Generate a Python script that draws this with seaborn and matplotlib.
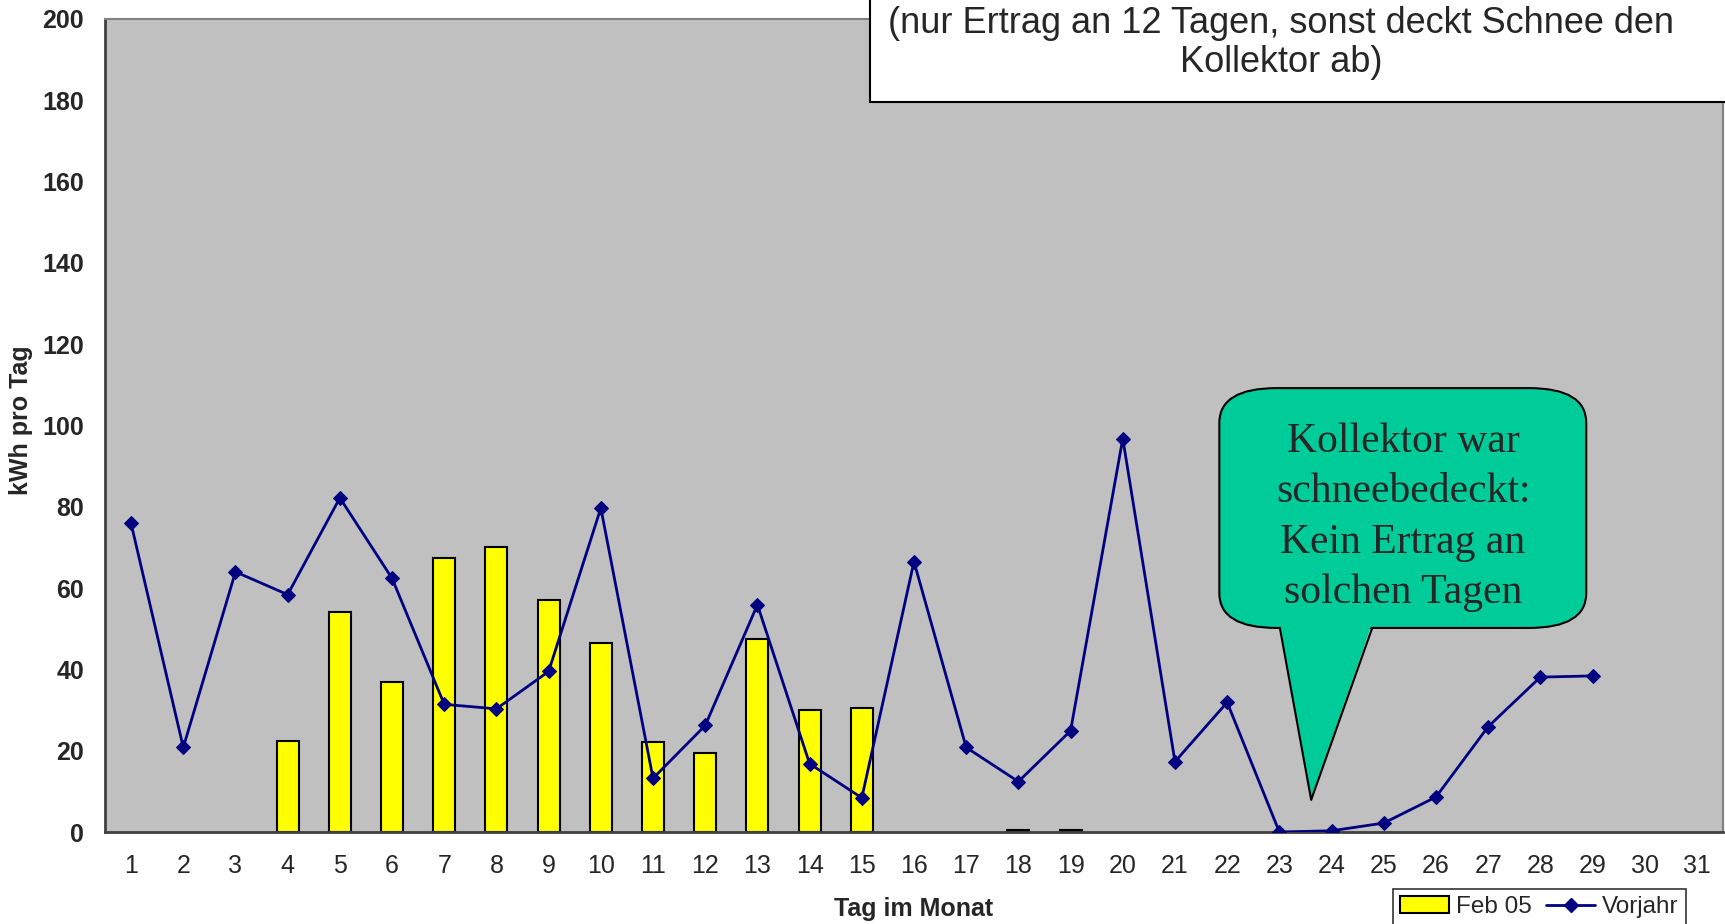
import numpy as np
import pandas as pd
import matplotlib
matplotlib.use("Agg")
import matplotlib.pyplot as plt
import seaborn as sns
from matplotlib.patches import FancyBboxPatch, Polygon, Rectangle, Patch
from matplotlib.lines import Line2D

# Werte
days = list(range(1, 32))
feb05 = [np.nan, np.nan, np.nan, 22.4, 54.0, 37.0, 67.3, 70.0, 57.0, 46.5,
         22.2, 19.5, 47.6, 30.0, 30.5, np.nan, np.nan, 0.4, 0.4, np.nan,
         np.nan, np.nan, np.nan, np.nan, np.nan, np.nan, np.nan, np.nan, np.nan,
         np.nan, np.nan]
vorjahr = [75.9, 20.8, 64.0, 58.4, 82.2, 62.4, 31.4, 30.3, 39.5, 79.7,
           13.2, 26.2, 55.9, 16.8, 8.4, 66.5, 20.8, 12.4, 24.9, 96.8,
           17.3, 31.9, 0.0, 0.3, 2.2, 8.6, 25.9, 38.1, 38.4, np.nan, np.nan]
y_ticks = list(range(0, 201, 20))

title_text = "(nur Ertrag an 12 Tagen, sonst deckt Schnee den\nKollektor ab)"
callout_text = "Kollektor war\nschneebedeckt:\nKein Ertrag an\nsolchen Tagen"

df = pd.DataFrame({"Tag": days, "Feb 05": feb05, "Vorjahr": vorjahr})

sns.set_style("white")
plt.rcParams["font.family"] = ["Liberation Sans", "DejaVu Sans"]

fig = plt.figure(figsize=(17.25, 9.24), dpi=100)
ax = fig.add_axes([105 / 1725, 1 - 832 / 924, 1618 / 1725, 813 / 924])
ax.set_facecolor("#C0C0C0")

sns.barplot(data=df.dropna(subset=["Feb 05"]), x="Tag", y="Feb 05", native_scale=True,
            color="#FFFF00", saturation=1, edgecolor="black", linewidth=1.5,
            width=0.42, errorbar=None, ax=ax, zorder=2)
sns.lineplot(data=df.dropna(subset=["Vorjahr"]), x="Tag", y="Vorjahr", color="#000080",
             linewidth=2, marker="D", markersize=7, markeredgecolor="#000080",
             ax=ax, zorder=3)

ax.set_xlim(0.5, 31.5)
ax.set_ylim(0, 200)

# Striche zwischen den Tagen, Beschriftung in der Mitte
ax.set_xticks(np.arange(0.5, 32, 1))
ax.set_xticklabels([])
ax.set_xticks(days, minor=True)
ax.set_xticklabels([str(d) for d in days], minor=True, fontsize=18)
ax.tick_params(axis="x", which="major", direction="inout", length=16, width=1.2, color="black")
ax.tick_params(axis="x", which="minor", length=0, pad=16)
ax.set_yticks(y_ticks)
ax.set_yticklabels([str(v) for v in y_ticks], fontsize=18, fontweight="bold")
ax.tick_params(axis="y", direction="inout", length=16, width=1.2, color="black", pad=7)

ax.set_xlabel("")
ax.set_ylabel("")
fig.text(914 / 1725, 1 - 909 / 924, "Tag im Monat", ha="center", va="center",
         fontsize=18, fontweight="bold")
fig.text(21 / 1725, 1 - 420 / 924, "kWh pro Tag", ha="center", va="center",
         rotation=90, fontsize=18, fontweight="bold")

for side in ["left", "bottom"]:
    ax.spines[side].set_color("#404040")
    ax.spines[side].set_linewidth(2)
for side in ["top", "right"]:
    ax.spines[side].set_visible(True)
    ax.spines[side].set_color("#808080")
    ax.spines[side].set_linewidth(1.5)

# Sprechblase
box = FancyBboxPatch((21.85, 50.2), 28.88 - 21.85, 109.2 - 50.2,
                     boxstyle="round,pad=0,rounding_size=1.1", mutation_aspect=7.8,
                     facecolor="#00CC99", edgecolor="black", linewidth=1.5, zorder=4)
ax.add_patch(box)
tail = Polygon([(23.01, 51.5), (24.78, 51.5), (23.61, 7.9)], closed=True,
               facecolor="#00CC99", edgecolor="none", zorder=5)
ax.add_patch(tail)
ax.plot([23.01, 23.61, 24.78], [50.2, 7.9, 50.2], color="black", linewidth=1.5, zorder=6)
ax.text(25.37, 77.4, callout_text, ha="center", va="center", fontsize=30,
        family=["Liberation Serif", "DejaVu Serif"], linespacing=1.4, zorder=7)

# Titelkasten oben rechts (teilweise abgeschnitten)
fig.add_artist(Rectangle((870 / 1725, 1 - 102 / 924), 0.6, 0.3, transform=fig.transFigure,
                         facecolor="white", edgecolor="black", linewidth=1.5, zorder=5))
fig.text(1281 / 1725, 1 - 43 / 924, title_text, ha="center", va="center", fontsize=26,
         linespacing=1.17, zorder=6)

handles = [Patch(facecolor="#FFFF00", edgecolor="black", linewidth=1.5),
           Line2D([], [], color="#000080", linewidth=2, marker="D", markersize=7)]
leg = fig.legend(handles, ["Feb 05", "Vorjahr"], loc="upper right",
                 bbox_to_anchor=(1686 / 1725, 1 - 889 / 924), ncol=2, fontsize=17.5,
                 frameon=True, fancybox=False, handlelength=2.0, handletextpad=0.3,
                 columnspacing=0.6, borderpad=0.3, borderaxespad=0)
leg.get_frame().set_edgecolor("black")
leg.get_frame().set_linewidth(1.2)

fig.savefig("out.png", dpi=100)
